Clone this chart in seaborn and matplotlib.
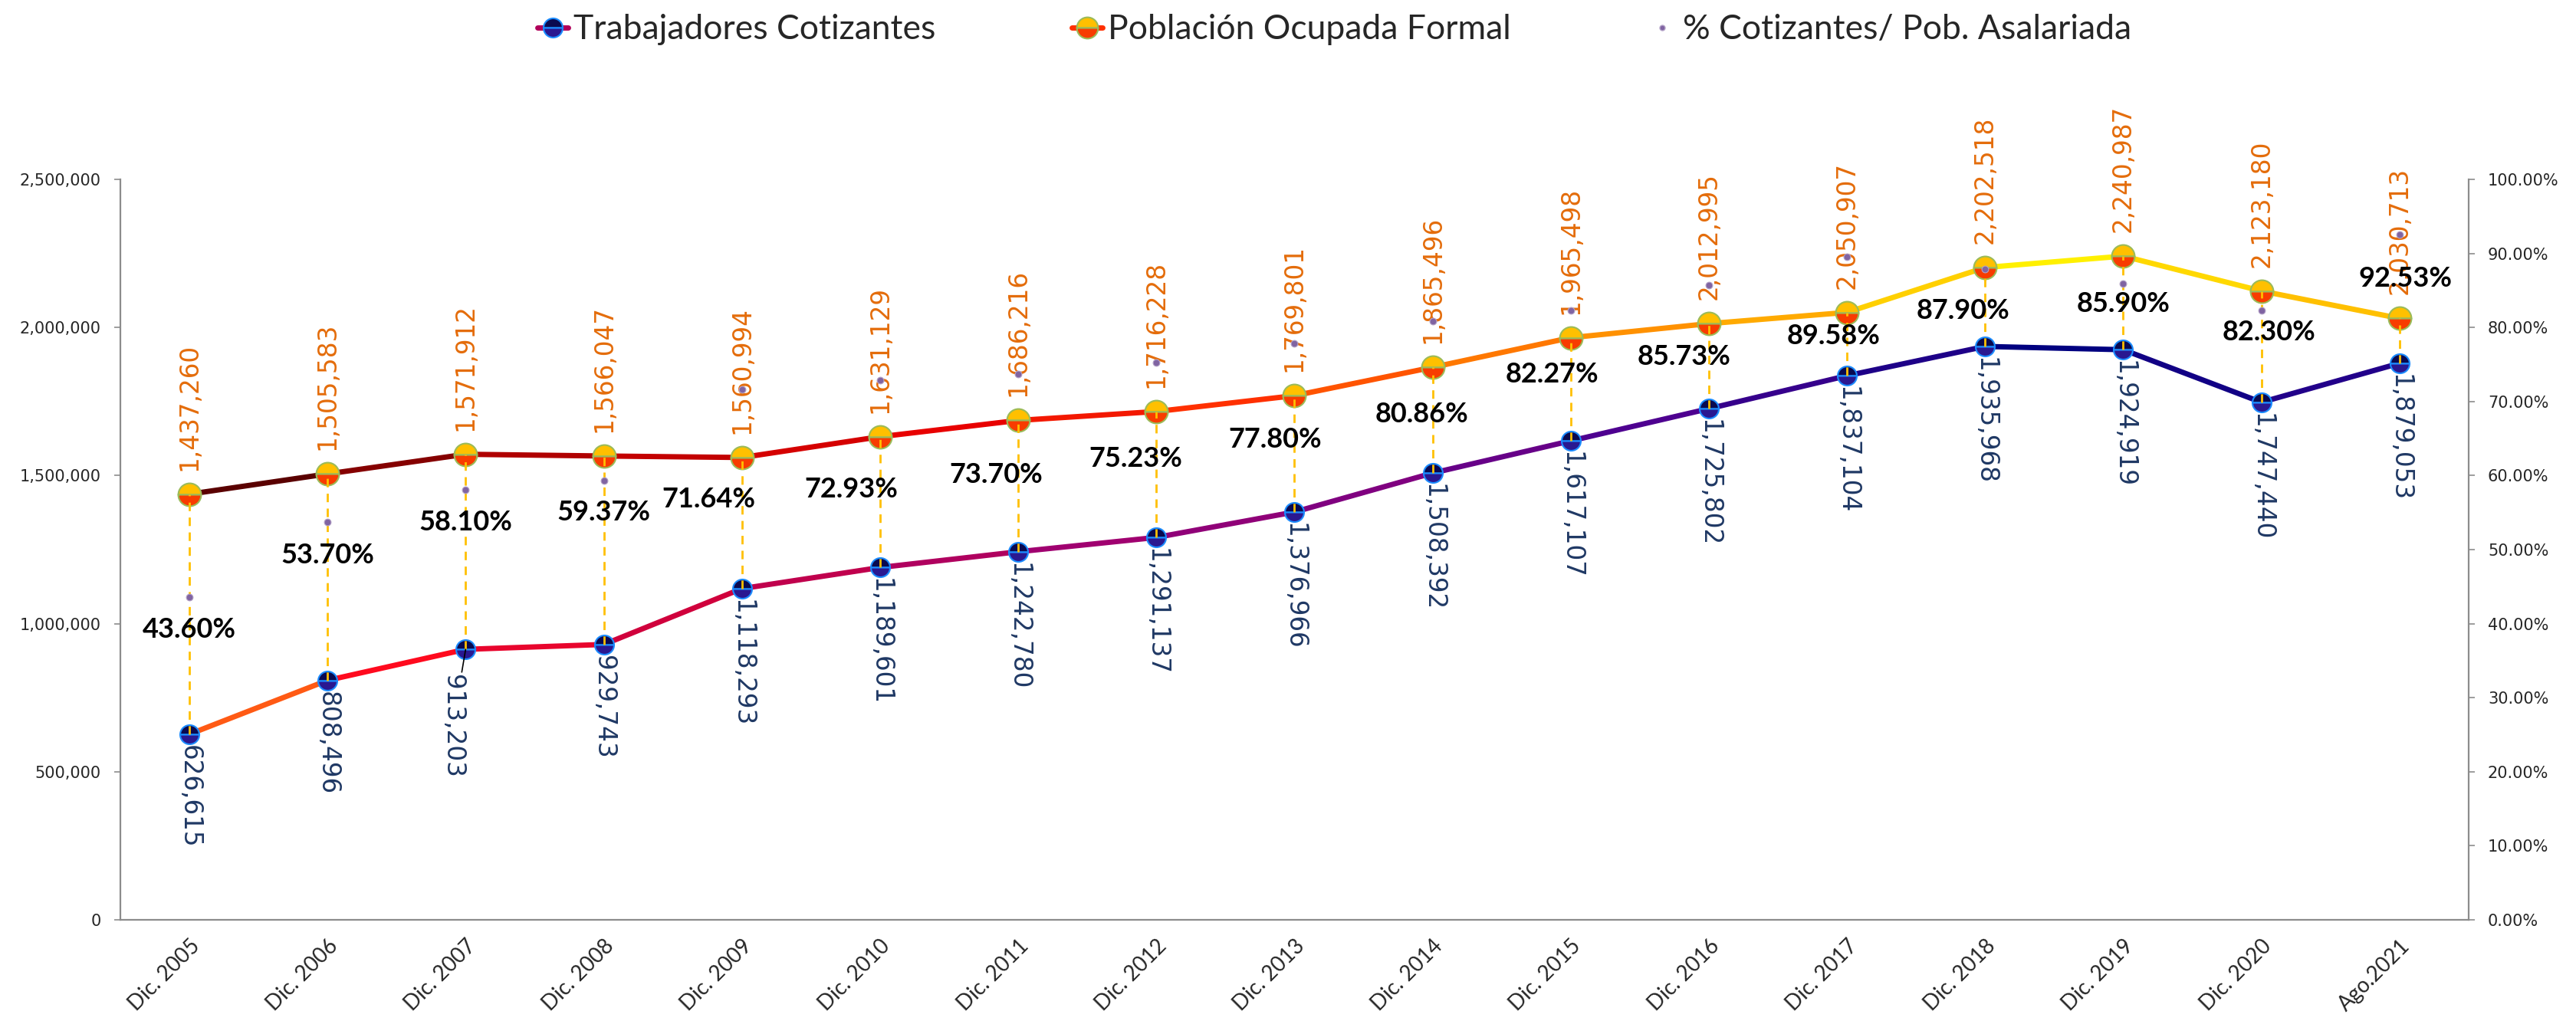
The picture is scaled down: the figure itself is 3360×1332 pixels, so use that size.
import pandas as pd
import seaborn as sns
import matplotlib.pyplot as plt
from matplotlib.lines import Line2D
from matplotlib.colors import LinearSegmentedColormap
from matplotlib.ticker import FuncFormatter, MultipleLocator

# Datos
periodos = ['Dic. 2005', 'Dic. 2006', 'Dic. 2007', 'Dic. 2008', 'Dic. 2009', 'Dic. 2010',
            'Dic. 2011', 'Dic. 2012', 'Dic. 2013', 'Dic. 2014', 'Dic. 2015', 'Dic. 2016',
            'Dic. 2017', 'Dic. 2018', 'Dic. 2019', 'Dic. 2020', 'Ago.2021']
trabajadores = [626615, 808496, 913203, 929743, 1118293, 1189601, 1242780, 1291137, 1376966,
                1508392, 1617107, 1725802, 1837104, 1935968, 1924919, 1747440, 1879053]
poblacion = [1437260, 1505583, 1571912, 1566047, 1560994, 1631129, 1686216, 1716228, 1769801,
             1865496, 1965498, 2012995, 2050907, 2202518, 2240987, 2123180, 2030713]
pct_cotizantes = [43.60, 53.70, 58.10, 59.37, 71.64, 72.93, 73.70, 75.23, 77.80,
                  80.86, 82.27, 85.73, 89.58, 87.90, 85.90, 82.30, 92.53]

# desplazamiento (pixeles) de las etiquetas de % respecto al punto
pct_nudge = [(0, 43), (0, 43), (0, 43), (0, 42), (-43, 144), (-38, 143), (-29, 131), (-27, 125),
             (-25, 125), (-14, 122), (-24, 83), (-32, 94), (-18, 104), (-29, 55), (0, 26),
             (10, 28), (8, 57)]

sns.set_theme(style='white')
plt.rcParams['font.family'] = ['DejaVu Sans']

df = pd.DataFrame({'periodo': periodos, 'trab': trabajadores, 'pob': poblacion,
                   'pct': [p / 100 for p in pct_cotizantes]})
df['x'] = range(len(df))

fig = plt.figure(figsize=(33.6, 13.32), dpi=100)
ax = fig.add_axes([0.0467, 0.0991, 0.9116, 0.7252])
ax2 = ax.twinx()

cm_trab = LinearSegmentedColormap.from_list('trab', [
    (0, '#FF5A14'), (1/15, '#FF0A1E'), (3/15, '#D0003C'), (6/15, '#A00070'),
    (8/15, '#800080'), (10/15, '#4E0090'), (12/15, '#1E0088'), (13/15, '#000080'), (1, '#22008A')])
cm_pob = LinearSegmentedColormap.from_list('pob', [
    (0, '#5A0000'), (2/15, '#B00000'), (5/15, '#E80000'), (7/15, '#FF3000'),
    (9/15, '#FF7800'), (11/15, '#FFAA00'), (12/15, '#FFD000'), (13/15, '#FFF000'), (1, '#FFC000')])

n = len(df) - 1
for i in range(n):
    seg = df.iloc[i:i + 2]
    sns.lineplot(data=seg, x='x', y='trab', color=cm_trab(i / (n - 1)), lw=5, ax=ax, zorder=2)
    sns.lineplot(data=seg, x='x', y='pob', color=cm_pob(i / (n - 1)), lw=5, ax=ax, zorder=2)

# marcadores
ax.plot(df['x'], df['pob'], ls='none', marker='o', ms=21.5, mfc='#FFC000',
        markerfacecoloralt='#F83C00', fillstyle='top', mec='#9BBB59', mew=1.5, zorder=3)
ax.plot(df['x'], df['trab'], ls='none', marker='o', ms=18, mfc='#0A0A50',
        markerfacecoloralt='#2A1890', fillstyle='top', mec='#1C8CFF', mew=1.5, zorder=3)

# lineas de unión punteadas
ax.vlines(df['x'], df['trab'], df['pob'], colors='#FFC000', linestyles=(0, (4, 3)), lw=2, zorder=4)

# etiquetas de valores
for i, r in df.iterrows():
    ax.annotate(f"{r['pob']:,}", (r['x'], r['pob']), xytext=(0, 31), textcoords='offset pixels',
                rotation=90, ha='center', va='bottom', color='#E46C0A', fontsize=23.5, zorder=6)
    dx, dy = (-17, -33) if i == 2 else (0, -14)
    ax.annotate(f"{r['trab']:,}", (r['x'], r['trab']), xytext=(dx, dy), textcoords='offset pixels',
                rotation=270, ha='center', va='top', color='#1F3864', fontsize=23.5, zorder=6,
                arrowprops=dict(arrowstyle='-', color='black', lw=1.2, shrinkA=0, shrinkB=0) if i == 2 else None)

# porcentaje en eje secundario
sns.scatterplot(data=df, x='x', y='pct', ax=ax2, s=40, color='#8064A2', edgecolor='#B3A2C7',
                linewidth=0.8, zorder=5, legend=False)
for i, r in df.iterrows():
    dx, dy = pct_nudge[i]
    ax2.annotate(f"{r['pct'] * 100:.2f}%", (r['x'], r['pct']), xytext=(dx, -dy),
                 textcoords='offset pixels', ha='center', va='center', fontsize=26,
                 fontweight='bold', family=['Lato', 'DejaVu Sans'], color='black', zorder=7)

# ejes
ax.set_xlim(-0.5, 16.5)
ax.set_ylim(0, 2500000)
ax2.set_ylim(0, 1)
ax.yaxis.set_major_locator(MultipleLocator(500000))
ax.yaxis.set_major_formatter(FuncFormatter(lambda v, p: f"{v:,.0f}"))
ax2.yaxis.set_major_locator(MultipleLocator(0.1))
ax2.yaxis.set_major_formatter(FuncFormatter(lambda v, p: f"{v * 100:.2f}%"))
ax.set_xticks(df['x'])
ax.set_xticklabels(periodos, rotation=45, ha='right', va='top', rotation_mode='anchor',
                   fontsize=20, family=['Lato', 'DejaVu Sans'])
for a in (ax, ax2):
    a.set_xlabel('')
    a.set_ylabel('')
    a.grid(False)
    for s in a.spines.values():
        s.set_visible(False)
ax.spines['left'].set_visible(True)
ax.spines['bottom'].set_visible(True)
ax2.spines['right'].set_visible(True)
for s in (ax.spines['left'], ax.spines['bottom'], ax2.spines['right']):
    s.set_color('#8C8C8C')
    s.set_linewidth(1.6)
ax.tick_params(axis='y', left=True, length=6, width=1.2, color='#8C8C8C', pad=12, labelsize=15)
ax.tick_params(axis='x', bottom=False, length=0, pad=15)
ax2.tick_params(axis='y', right=True, length=6, width=1.2, color='#8C8C8C', pad=12, labelsize=15)

# leyenda
h1 = Line2D([], [], color='#B0005A', lw=5, marker='o', ms=18, mfc='#0A0A50',
            markerfacecoloralt='#2A1890', fillstyle='top', mec='#1C8CFF', mew=1.5)
h2 = Line2D([], [], color='#FF3000', lw=5, marker='o', ms=20, mfc='#FFC000',
            markerfacecoloralt='#F83C00', fillstyle='top', mec='#9BBB59', mew=1.5)
h3 = Line2D([], [], ls='none', marker='o', ms=5, mfc='#8064A2', mec='#B3A2C7')
fig.legend([h1, h2, h3], ['Trabajadores Cotizantes', 'Población Ocupada Formal',
                          '% Cotizantes/ Pob. Asalariada'],
           loc='center', bbox_to_anchor=(0.518, 0.971), ncol=3, frameon=False,
           prop={'family': ['Lato', 'DejaVu Sans'], 'size': 32}, handlelength=0.9,
           handletextpad=0.15, columnspacing=4.0)

fig.savefig('out.png', dpi=100, facecolor='white')
